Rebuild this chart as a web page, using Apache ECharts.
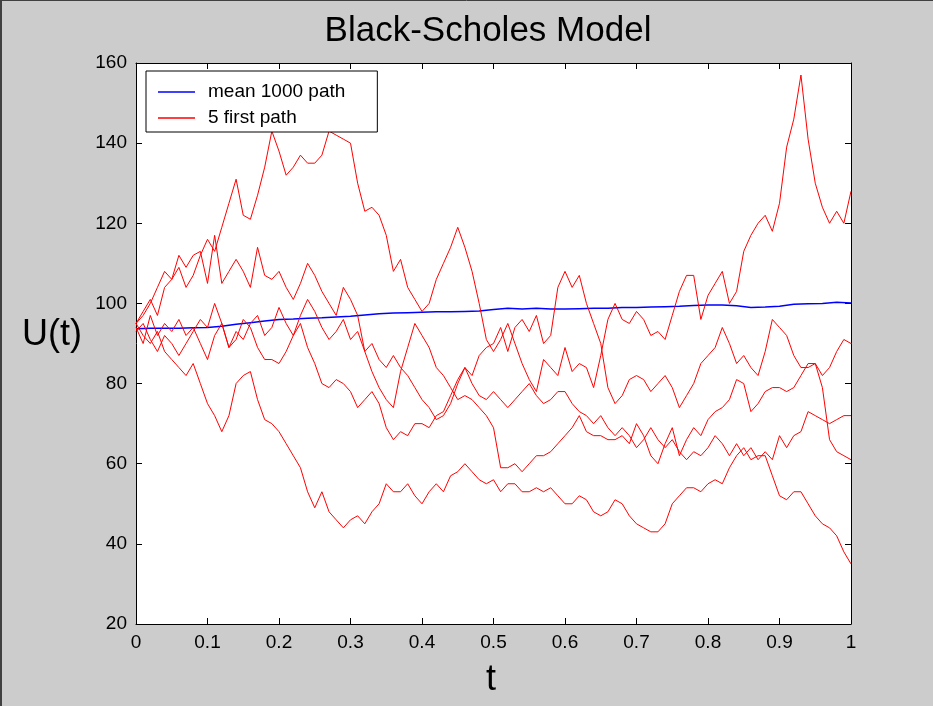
<!DOCTYPE html>
<html>
<head>
<meta charset="utf-8">
<title>Black-Scholes Model</title>
<script src="https://cdn.jsdelivr.net/npm/echarts@6/dist/echarts.min.js"></script>
<style>
  html, body { margin: 0; padding: 0; background: #cccccc; }
  #main { width: 933px; height: 706px; }
</style>
</head>
<body>
<div id="main"></div>
<script>
// time grid of the 5 simulated paths (step 0.01)
var tPath = [
  0, 0.01, 0.02, 0.03, 0.04, 0.05, 0.06, 0.07, 0.08, 0.09,
  0.10, 0.11, 0.12, 0.13, 0.14, 0.15, 0.16, 0.17, 0.18, 0.19,
  0.20, 0.21, 0.22, 0.23, 0.24, 0.25, 0.26, 0.27, 0.28, 0.29,
  0.30, 0.31, 0.32, 0.33, 0.34, 0.35, 0.36, 0.37, 0.38, 0.39,
  0.40, 0.41, 0.42, 0.43, 0.44, 0.45, 0.46, 0.47, 0.48, 0.49,
  0.50, 0.51, 0.52, 0.53, 0.54, 0.55, 0.56, 0.57, 0.58, 0.59,
  0.60, 0.61, 0.62, 0.63, 0.64, 0.65, 0.66, 0.67, 0.68, 0.69,
  0.70, 0.71, 0.72, 0.73, 0.74, 0.75, 0.76, 0.77, 0.78, 0.79,
  0.80, 0.81, 0.82, 0.83, 0.84, 0.85, 0.86, 0.87, 0.88, 0.89,
  0.90, 0.91, 0.92, 0.93, 0.94, 0.95, 0.96, 0.97, 0.98, 0.99,
  1.00
]

// time grid of the mean curve (step 0.02)
var tMean = [
  0, 0.02, 0.04, 0.06, 0.08, 0.10, 0.12, 0.14, 0.16, 0.18,
  0.20, 0.22, 0.24, 0.26, 0.28, 0.30, 0.32, 0.34, 0.36, 0.38,
  0.40, 0.42, 0.44, 0.46, 0.48, 0.50, 0.52, 0.54, 0.56, 0.58,
  0.60, 0.62, 0.64, 0.66, 0.68, 0.70, 0.72, 0.74, 0.76, 0.78,
  0.80, 0.82, 0.84, 0.86, 0.88, 0.90, 0.92, 0.94, 0.96, 0.98,
  1.00
]

var meanPath = [
  93.7, 93.8, 93.8, 93.8, 93.9, 94.0, 94.3, 94.8, 95.2, 95.6,
  96.0, 96.1, 96.3, 96.4, 96.6, 96.8, 97.1, 97.4, 97.6, 97.7,
  97.8, 97.9, 97.9, 98.0, 98.1, 98.5, 98.8, 98.6, 98.8, 98.6,
  98.6, 98.7, 98.8, 98.8, 99.0, 99.0, 99.1, 99.2, 99.3, 99.5,
  99.6, 99.6, 99.4, 99.0, 99.1, 99.3, 99.8, 99.9, 100.0, 100.3,
  100.1
]

var path1 = [
  95, 97, 100, 104, 108, 106, 109, 104, 107, 112,
  116, 113, 119, 125, 131, 122, 121, 127, 134, 143,
  138, 132, 134, 137, 135, 135, 137, 143, 142, 141,
  140, 130, 123, 124, 122, 117, 108, 111, 104, 101,
  98, 100, 106, 110, 114, 119, 114, 108, 100, 91,
  88, 91, 95, 90, 85, 81, 78, 86, 84, 82,
  89, 83, 85, 84, 79, 87, 96, 100, 96, 95,
  98, 96, 92, 93, 91, 97, 103, 107, 107, 96,
  102, 105, 108, 100, 103, 113, 117, 120, 122, 118,
  125, 139, 146, 157, 141, 130, 124, 120, 123, 120,
  128
]

var path2 = [
  95, 98, 101, 97, 104, 106, 112, 109, 112, 113,
  105, 117, 105, 108, 111, 108, 104, 114, 107, 106,
  108, 104, 101, 105, 110, 107, 103, 100, 97, 104,
  101, 97, 88, 83, 79, 76, 74, 83, 89, 95,
  92, 89, 84, 82, 79, 76, 77, 76, 74, 72,
  69, 59, 59, 60, 58, 60, 62, 62, 63, 65,
  67, 69, 72, 68, 67, 67, 66, 66, 67, 65,
  70, 67, 62, 60, 65, 69, 62, 66, 69, 67,
  71, 73, 74, 76, 81, 80, 73, 75, 78, 79,
  79, 78, 79, 82, 85, 85, 79, 66, 63, 62,
  61
]

var path3 = [
  95, 92, 90, 93, 88, 86, 84, 82, 85, 80,
  75, 72, 68, 72, 80, 82, 83, 76, 71, 70,
  68, 65, 62, 59, 53, 49, 53, 48, 46, 44,
  46, 47, 45, 48, 50, 55, 53, 53, 55, 52,
  50, 53, 55, 53, 57, 58, 60, 58, 56, 55,
  56, 53, 55, 55, 53, 53, 54, 53, 54, 52,
  50, 50, 52, 51, 48, 47, 48, 51, 50, 47,
  45, 44, 43, 43, 45, 50, 52, 54, 54, 53,
  55, 56, 55, 59, 62, 64, 61, 62, 62, 57,
  52, 51, 53, 53, 50, 47, 45, 44, 42, 38,
  35
]

var path4 = [
  94, 90, 97, 92, 95, 93, 96, 92, 94, 90,
  86, 92, 95, 89, 91, 96, 94, 89, 86, 86,
  85, 88, 92, 95, 89, 85, 80, 79, 81, 80,
  78, 74, 76, 78, 75, 69, 66, 68, 67, 70,
  70, 69, 72, 73, 77, 81, 84, 82, 87, 89,
  90, 94, 88, 94, 96, 93, 97, 90, 92, 104,
  108, 104, 107, 100, 95, 90, 79, 75, 77, 81,
  82, 81, 78, 80, 82, 79, 74, 77, 80, 85,
  87, 89, 94, 90, 85, 87, 84, 82, 88, 96,
  94, 92, 87, 84, 84, 85, 82, 84, 88, 91,
  90
]

var path5 = [
  93, 95, 91, 88, 92, 90, 87, 90, 93, 96,
  94, 100, 95, 89, 93, 91, 95, 97, 92, 94,
  99, 95, 92, 97, 101, 98, 94, 91, 93, 96,
  91, 93, 88, 90, 86, 84, 87, 84, 82, 79,
  76, 74, 71, 72, 75, 80, 84, 80, 77, 76,
  78, 76, 74, 76, 78, 80, 77, 75, 76, 78,
  78, 75, 73, 72, 70, 72, 69, 67, 69, 67,
  64, 66, 69, 66, 64, 66, 63, 61, 63, 62,
  64, 67, 65, 62, 65, 62, 64, 61, 63, 61,
  67, 64, 67, 68, 73, 72, 71, 70, 71, 72,
  72
]

var redPaths = [path1, path2, path3, path4, path5]

var xTicks = [0, 1, 0.1]     // min, max, step
var yTicks = [20, 160, 20]

var font = 'Liberation Sans, Arial, sans-serif'

function pairs (ts, vs) {
  return ts.map(function (t, i) { return [t, vs[i]] })
}

function makeAxis (ticks, pos, showLabel) {
  return {
    type: 'value',
    position: pos,
    min: ticks[0],
    max: ticks[1],
    interval: ticks[2],
    axisLine: { onZero: false, lineStyle: { color: '#000', width: 1 } },
    axisTick: { inside: true, length: 6, lineStyle: { color: '#000' } },
    axisLabel: { show: showLabel, color: '#000', fontSize: 19, fontFamily: font, margin: 9 },
    splitLine: { show: false }
  }
}

var series = [{
  name: 'mean 1000 path',
  type: 'line',
  data: pairs(tMean, meanPath),
  symbol: 'none',
  lineStyle: { color: '#0000ff', width: 1.5 },
  itemStyle: { color: '#0000ff' }
}]

redPaths.forEach(function (p) {
  series.push({
    name: '5 first path',
    type: 'line',
    data: pairs(tPath, p),
    symbol: 'none',
    lineStyle: { color: '#ff0000', width: 1 },
    itemStyle: { color: '#ff0000' }
  })
})

var chart = echarts.init(document.getElementById('main'))

chart.setOption({
  backgroundColor: '#cccccc',
  animation: false,
  grid: { left: 136, right: 82, top: 63, bottom: 82, show: true, backgroundColor: '#ffffff', borderWidth: 0 },
  xAxis: [makeAxis(xTicks, 'bottom', true), makeAxis(xTicks, 'top', false)],
  yAxis: [makeAxis(yTicks, 'left', true), makeAxis(yTicks, 'right', false)],
  legend: {
    data: ['mean 1000 path', '5 first path'],
    orient: 'vertical',
    left: 146,
    top: 71,
    // plain line sample, no marker
    icon: 'path://M0,0L37,0L37,1.5L0,1.5Z',
    itemWidth: 37,
    itemHeight: 1.5,
    itemGap: 4,
    padding: [10, 32, 3, 12],
    borderColor: '#000',
    borderWidth: 1,
    backgroundColor: '#ffffff',
    selectedMode: false,
    textStyle: { fontSize: 19, fontFamily: font, color: '#000', lineHeight: 22, padding: [0, 0, 0, 8] }
  },
  graphic: [
    { type: 'text', x: 488, y: 31, style: { text: 'Black-Scholes Model', fontSize: 35, fontFamily: font, fill: '#000', align: 'center', verticalAlign: 'middle' } },
    { type: 'text', x: 52, y: 335, style: { text: 'U(t)', fontSize: 36, fontFamily: font, fill: '#000', align: 'center', verticalAlign: 'middle' } },
    { type: 'text', x: 491, y: 680, style: { text: 't', fontSize: 36, fontFamily: font, fill: '#000', align: 'center', verticalAlign: 'middle' } },
    { type: 'line', shape: { x1: 0, y1: 0.5, x2: 933, y2: 0.5 }, style: { stroke: '#404040', lineWidth: 1 } },
    { type: 'line', shape: { x1: 1, y1: 0, x2: 1, y2: 706 }, style: { stroke: '#404040', lineWidth: 2 } }
  ],
  series: series
})
</script>
</body>
</html>
